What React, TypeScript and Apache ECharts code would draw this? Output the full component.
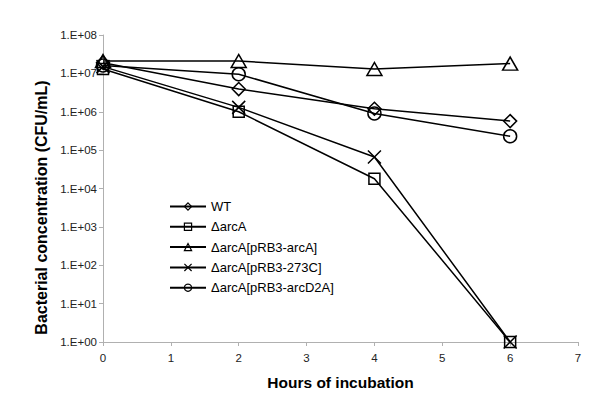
import React, { useEffect, useRef } from "react";
import * as echarts from "echarts";

const hours = [0, 2, 4, 6];
const seriesNames = ["WT", "ΔarcA", "ΔarcA[pRB3-arcA]", "ΔarcA[pRB3-273C]", "ΔarcA[pRB3-arcD2A]"];
const wt = [1.9e7, 3.9e6, 1.2e6, 5.7e5];
const arcA = [1.3e7, 1.0e6, 1.8e4, 1];
const arcA_pArcA = [2.1e7, 2.1e7, 1.3e7, 1.8e7];
const arcA_p273C = [1.5e7, 1.3e6, 6.6e4, 1];
const arcA_pD2A = [1.6e7, 9.5e6, 9.0e5, 2.3e5];
const xTicks = [0, 1, 2, 3, 4, 5, 6, 7];

const FONT = "'Liberation Sans', Arial, sans-serif";

const xSymbol = "path://M0,0L10,10M10,0L0,10";

export default function App() {
  const ref = useRef<HTMLDivElement>(null);
  useEffect(() => {
    if (!ref.current) return;
    const chart = echarts.init(ref.current, null, { renderer: "svg" });
    const allData = [wt, arcA, arcA_pArcA, arcA_p273C, arcA_pD2A];
    const symbols = ["diamond", "rect", "triangle", xSymbol, "circle"];
    const sizes: any[] = [[13, 13], [11, 11], [15, 13], [13, 13], [13, 13]];
    chart.setOption({
      animation: false,
      textStyle: { fontFamily: FONT },
      grid: { left: 103, right: 22, top: 35, bottom: 65 },
      legend: {
        orient: "vertical",
        left: 169,
        top: 200,
        padding: 0,
        itemWidth: 36,
        itemHeight: 9,
        itemGap: 7.3,
        itemStyle: { borderWidth: 1.2 },
        textStyle: { fontSize: 13, color: "#000", fontFamily: FONT },
        data: seriesNames,
      },
      xAxis: {
        type: "value",
        min: 0,
        max: 7,
        interval: 1,
        name: "Hours of incubation",
        nameLocation: "middle",
        nameGap: 32,
        nameTextStyle: { fontSize: 15.5, fontWeight: "bold", color: "#000", fontFamily: FONT },
        axisLine: { lineStyle: { color: "#b0b0b0", width: 1 } },
        axisTick: { show: true, length: 4, lineStyle: { color: "#b0b0b0" } },
        axisLabel: {
          fontSize: 11.5,
          color: "#222",
          margin: 10,
          formatter: (v: number) => (xTicks.includes(v) ? String(v) : ""),
        },
        splitLine: { show: false },
      },
      yAxis: {
        type: "log",
        logBase: 10,
        min: 1,
        max: 1e8,
        splitNumber: 8,
        name: "Bacterial concentration (CFU/mL)",
        nameLocation: "middle",
        nameGap: 51,
        nameTextStyle: {
          fontSize: 16,
          fontWeight: "bold",
          color: "#000",
          fontFamily: FONT,
          padding: [0, 38, 0, 0],
        },
        axisLine: { show: true, lineStyle: { color: "#b0b0b0", width: 1 } },
        axisTick: { show: true, length: 4, lineStyle: { color: "#b0b0b0" } },
        axisLabel: {
          fontSize: 11.5,
          color: "#222",
          margin: 6,
          formatter: (v: number) => {
            const e = Math.round(Math.log10(v));
            return "1.E+" + (e < 10 ? "0" + e : String(e));
          },
        },
        splitLine: { show: false },
      },
      series: allData.map((d, i) => ({
        name: seriesNames[i],
        type: "line",
        data: hours.map((h, j) => [h, d[j]]),
        symbol: symbols[i],
        symbolSize: sizes[i],
        showSymbol: true,
        lineStyle: { color: "#000", width: 1.5 },
        itemStyle: { color: "rgba(255,255,255,0)", borderColor: "#000", borderWidth: 1.5 },
        emphasis: { disabled: true },
      })),
    });
    return () => chart.dispose();
  }, []);
  return <div ref={ref} style={{ width: 600, height: 407, position: "absolute", left: 0, top: 0 }} />;
}
